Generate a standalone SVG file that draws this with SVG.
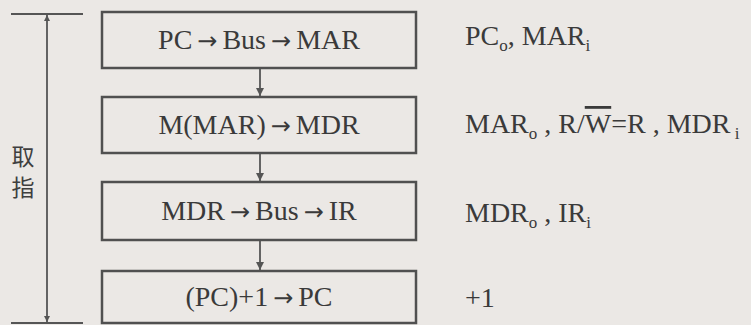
<svg xmlns="http://www.w3.org/2000/svg" width="751" height="325" viewBox="0 0 751 325">
<defs>
<style>
.bg{fill:#ebe8e5}
.box{fill:none;stroke:#505050;stroke-width:2.5}
.ln{stroke:#555;stroke-width:1.8;fill:none}
text.t{font-family:'Liberation Serif','DejaVu Serif',serif;font-size:28px;fill:#3a3a3a}
.c{text-anchor:middle}
.s{font-size:17px}
.a{font-family:'DejaVu Sans',sans-serif;font-size:24px}
.cjk{font-family:'Noto Sans CJK SC',sans-serif;font-size:23px;fill:#3f3f3f;text-anchor:middle}
</style>
<marker id="ah" viewBox="0 0 10 10" refX="10" refY="5" markerWidth="8" markerHeight="12" markerUnits="userSpaceOnUse" orient="auto-start-reverse">
<path d="M0,0 L10,5 L0,10 z" fill="#555"/>
</marker>
<marker id="ah2" viewBox="0 0 10 10" refX="10" refY="5" markerWidth="14" markerHeight="6" markerUnits="userSpaceOnUse" orient="auto-start-reverse">
<path d="M0,0 L10,5 L0,10 z" fill="#555"/>
</marker>
</defs>
<rect class="bg" x="0" y="0" width="751" height="325"/>
<g id="span">
<line class="ln" x1="11" y1="14" x2="83" y2="14"/>
<line class="ln" x1="11" y1="323" x2="83" y2="323"/>
<line class="ln" x1="47" y1="15" x2="47" y2="322" marker-start="url(#ah2)" marker-end="url(#ah2)"/>
<text class="cjk" x="23" y="165">取</text>
<text class="cjk" x="23" y="196">指</text>
</g>
<g id="connectors">
<line class="ln" x1="260" y1="68" x2="260" y2="96" marker-end="url(#ah)"/>
<line class="ln" x1="260" y1="153" x2="260" y2="181" marker-end="url(#ah)"/>
<line class="ln" x1="260" y1="240" x2="260" y2="270" marker-end="url(#ah)"/>
</g>
<g id="n1">
<rect class="box" x="102" y="12" width="314" height="56"/>
<text class="t c" x="259" y="49">PC<tspan class="a" dx="5">→</tspan><tspan dx="5">Bus</tspan><tspan class="a" dx="5">→</tspan><tspan dx="5">MAR</tspan></text>
</g>
<g id="n2">
<rect class="box" x="102" y="97" width="314" height="56"/>
<text class="t c" x="259" y="134">M(MAR)<tspan class="a" dx="5">→</tspan><tspan dx="5">MDR</tspan></text>
</g>
<g id="n3">
<rect class="box" x="102" y="182" width="314" height="58"/>
<text class="t c" x="259" y="220">MDR<tspan class="a" dx="5">→</tspan><tspan dx="5">Bus</tspan><tspan class="a" dx="5">→</tspan><tspan dx="5">IR</tspan></text>
</g>
<g id="n4">
<rect class="box" x="102" y="271" width="314" height="52"/>
<text class="t c" x="259" y="306">(PC)+1<tspan class="a" dx="5">→</tspan><tspan dx="5">PC</tspan></text>
</g>
<g id="labels">
<text class="t" x="465" y="45">PC<tspan class="s" dy="6">o</tspan><tspan dy="-6">, MAR</tspan><tspan class="s" dy="6">i</tspan></text>
<text class="t" x="465" y="133">MAR<tspan class="s" dy="6">o</tspan><tspan dy="-6"> , R/</tspan><tspan text-decoration="overline">W</tspan><tspan>=R , MDR</tspan><tspan class="s" dy="6"> i</tspan></text>
<text class="t" x="465" y="222">MDR<tspan class="s" dy="6">o</tspan><tspan dy="-6"> , IR</tspan><tspan class="s" dy="6">i</tspan></text>
<text class="t" x="465" y="307">+1</text>
</g>
</svg>
